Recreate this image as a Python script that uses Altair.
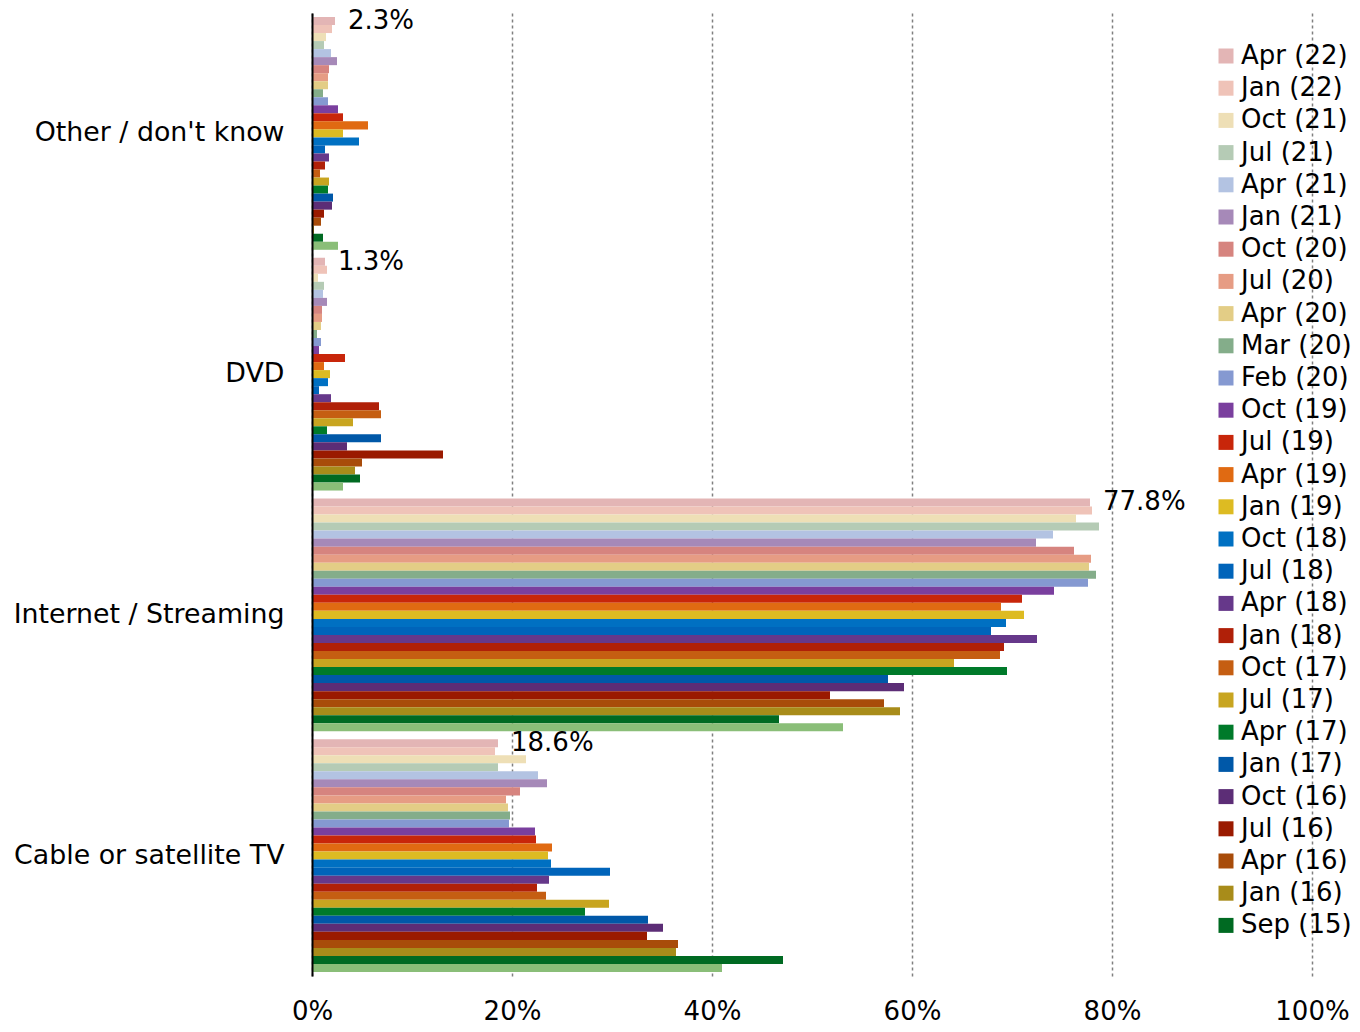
import altair as alt
import pandas as pd

categories = ["Other / don't know", "DVD", "Internet / Streaming", "Cable or satellite TV"]

series = ["Apr (22)", "Jan (22)", "Oct (21)", "Jul (21)", "Apr (21)", "Jan (21)",
          "Oct (20)", "Jul (20)", "Apr (20)", "Mar (20)", "Feb (20)", "Oct (19)",
          "Jul (19)", "Apr (19)", "Jan (19)", "Oct (18)", "Jul (18)", "Apr (18)",
          "Jan (18)", "Oct (17)", "Jul (17)", "Apr (17)", "Jan (17)", "Oct (16)",
          "Jul (16)", "Apr (16)", "Jan (16)", "Sep (15)", "Jun (15)"]
legend_series = series[:28]

colors = ["#E3B5B5", "#EFC3B8", "#EEDFB6", "#B5CBB5", "#B3C3E2", "#A689B8",
          "#D6847F", "#E69C84", "#E3CD86", "#84AD8A", "#8599D1", "#7A3F9E",
          "#C8260A", "#E06A12", "#DDBB22", "#0070C2", "#0064BA", "#66388A",
          "#B02008", "#C55E12", "#C8A520", "#007A2A", "#0058A8", "#5C2D76",
          "#9A1A00", "#A84C0A", "#A88C1A", "#006A22", "#8ABE78"]

# values in percent, one list per category, in the order of `series`
other_vals = [2.3, 2.0, 1.4, 1.2, 1.9, 2.5, 1.7, 1.6, 1.6, 1.1, 1.6, 2.6, 3.1, 5.6, 3.1,
              4.7, 1.3, 1.7, 1.3, 0.8, 1.7, 1.6, 2.1, 2.0, 1.2, 0.9, 0.2, 1.1, 2.6]
dvd_vals = [1.3, 1.5, 0.6, 1.2, 1.1, 1.5, 1.0, 1.0, 0.9, 0.5, 0.9, 0.7, 3.3, 1.2, 1.8,
            1.6, 0.7, 1.9, 6.7, 6.9, 4.1, 1.5, 6.9, 3.5, 13.1, 5.0, 4.3, 4.8, 3.1]
internet_vals = [77.8, 78.0, 76.4, 78.7, 74.1, 72.4, 76.2, 77.9, 77.7, 78.4, 77.6, 74.2,
                 71.0, 68.9, 71.2, 69.4, 67.9, 72.5, 69.2, 68.8, 64.2, 69.5, 57.6, 59.2,
                 51.8, 57.2, 58.8, 46.7, 53.1]
cable_vals = [18.6, 18.3, 21.4, 18.6, 22.6, 23.5, 20.8, 19.4, 19.6, 19.8, 19.7, 22.3,
              22.4, 24.0, 23.6, 23.9, 29.8, 23.7, 22.5, 23.4, 29.7, 27.3, 33.6, 35.1,
              33.5, 36.6, 36.4, 47.1, 41.0]

x_ticks = [0, 0.2, 0.4, 0.6, 0.8, 1.0]

rows = []
for cat, vals in zip(categories, [other_vals, dvd_vals, internet_vals, cable_vals]):
    for s, v in zip(series, vals):
        rows.append({"category": cat, "series": s, "value": v / 100.0})
df = pd.DataFrame(rows)

FONT = "DejaVu Sans"

y_enc = alt.Y("category:N", sort=categories,
              scale=alt.Scale(paddingInner=0.033, paddingOuter=0.0166),
              axis=alt.Axis(title=None, labelFontSize=26.8, labelColor="#000",
                            labelPadding=28, ticks=False, domainColor="#000",
                            domainWidth=2, labelLimit=400, grid=False, labelFont=FONT,
                            zindex=1))
yoff_enc = alt.YOffset("series:N", sort=series,
                       scale=alt.Scale(domain=series, paddingInner=0, paddingOuter=0))
x_enc = alt.X("value:Q", scale=alt.Scale(domain=[0, 1], nice=False),
              axis=alt.Axis(title=None, format=".0%", values=x_ticks, grid=True,
                            gridDash=[3, 3], gridColor="#808080", gridWidth=1.5,
                            domain=False, ticks=False, labelFontSize=26,
                            labelPadding=22, labelColor="#000", labelFont=FONT,
                            labelFlush=False))

base = alt.Chart(df)

bars = base.mark_bar().encode(
    y=y_enc,
    yOffset=yoff_enc,
    x=x_enc,
    color=alt.Color("series:N", sort=series,
                    scale=alt.Scale(domain=series, range=colors),
                    legend=alt.Legend(values=legend_series, title=None, orient="none",
                                      legendX=901, legendY=30, symbolType="square",
                                      symbolSize=225, symbolStrokeWidth=0,
                                      labelFontSize=26, labelFont=FONT, labelColor="#000",
                                      rowPadding=6.2, labelOffset=2, padding=0,
                                      labelLimit=300)),
)

labels = base.transform_filter(alt.datum.series == series[0]).mark_text(
    align="left", baseline="middle", dx=13, fontSize=26, color="#000", font=FONT
).encode(
    y=y_enc,
    yOffset=yoff_enc,
    x=x_enc,
    text=alt.Text("value:Q", format=".1%"),
)

chart = alt.layer(bars, labels).properties(
    width=1000, height=963,
    autosize=alt.AutoSizeParams(type="none"),
    padding={"left": 304, "top": 5, "right": 40, "bottom": 48},
).configure(font=FONT).configure_view(strokeWidth=0, stroke="transparent")

chart.save("out.html", embed_options={"renderer": "svg", "actions": False})
